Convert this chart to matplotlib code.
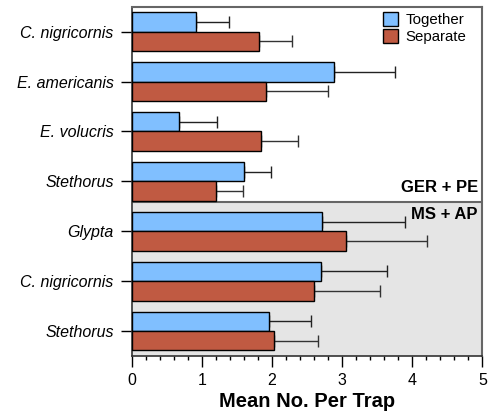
import matplotlib
matplotlib.use("Agg")
import matplotlib.pyplot as plt
from matplotlib.patches import Patch
from matplotlib.ticker import MultipleLocator
import numpy as np

plt.rcParams['font.family'] = ['Liberation Sans', 'DejaVu Sans']

# data, top to bottom
species = ["C. nigricornis", "E. americanis", "E. volucris", "Stethorus",
           "Glypta", "C. nigricornis", "Stethorus"]
together = [0.92, 2.88, 0.68, 1.60, 2.72, 2.70, 1.96]
together_err = [0.47, 0.88, 0.53, 0.39, 1.17, 0.94, 0.60]
separate = [1.81, 1.92, 1.84, 1.20, 3.05, 2.60, 2.03]
separate_err = [0.47, 0.88, 0.53, 0.39, 1.16, 0.94, 0.62]

blue = "#80BFFF"
red = "#C05A42"
frame = "#666666"

fig = plt.figure(figsize=(4.96, 4.15), dpi=100)
ax = fig.add_axes([0.2655, 0.1422, 0.707, 0.8417])

y = np.arange(len(species))
h = 0.39

# gray panel for the MS + AP site
ax.axhspan(3.41, 6.5, color="#E5E5E5", zorder=0, lw=0)
ax.axhline(3.41, color=frame, lw=1.5, zorder=1)

ax.barh(y - h / 2, together, height=h, color=blue, edgecolor="black", lw=1, zorder=3)
ax.barh(y + h / 2, separate, height=h, color=red, edgecolor="black", lw=1, zorder=3)
ax.errorbar(together, y - h / 2, xerr=[np.zeros(len(y)), together_err], fmt="none",
            ecolor="#222222", elinewidth=1, capsize=4, capthick=1, zorder=2)
ax.errorbar(separate, y + h / 2, xerr=[np.zeros(len(y)), separate_err], fmt="none",
            ecolor="#333333", elinewidth=1, capsize=4, capthick=1, zorder=2)

ax.set_ylim(6.5, -0.5)
ax.set_xlim(0, 5)
ax.set_yticks(y)
ax.set_yticklabels(species, fontstyle="italic", fontsize=11.5)
ax.xaxis.set_major_locator(MultipleLocator(1))
ax.xaxis.set_minor_locator(MultipleLocator(0.2))
ax.tick_params(axis="x", which="major", length=8, width=1, labelsize=11.5, pad=4)
ax.tick_params(axis="x", which="minor", length=3, width=1)
ax.tick_params(axis="y", length=8, width=1, pad=5)
ax.set_xlabel("Mean No. Per Trap", fontsize=14.5, fontweight="bold", labelpad=3)

for s in ["top", "right"]:
    ax.spines[s].set_color(frame)
    ax.spines[s].set_linewidth(1.5)
for s in ["left", "bottom"]:
    ax.spines[s].set_color("#333333")
    ax.spines[s].set_linewidth(1.2)

ax.text(4.935, 3.28, "GER + PE", ha="right", va="bottom", fontsize=12, fontweight="bold")
ax.text(4.935, 3.52, "MS + AP", ha="right", va="top", fontsize=12, fontweight="bold")

handles = [Patch(facecolor=blue, edgecolor="black", label="Together"),
           Patch(facecolor=red, edgecolor="black", label="Separate")]
ax.legend(handles=handles, loc="upper left", bbox_to_anchor=(0.717, 0.984),
          frameon=False, fontsize=10.8, borderpad=0,
          handlelength=1.0, handleheight=1.0, handletextpad=0.5,
          borderaxespad=0, labelspacing=0.15)

fig.savefig("out.png", dpi=100)
